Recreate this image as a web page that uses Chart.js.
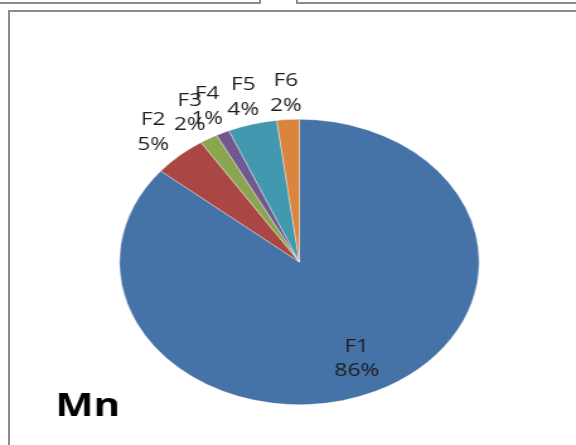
<!DOCTYPE html>
<html>
<head>
<meta charset="utf-8">
<script src="https://cdn.jsdelivr.net/npm/chart.js@4"></script>
<style>
  html, body { margin: 0; padding: 0; background: #fff; }
  body { width: 576px; height: 445px; position: relative; overflow: hidden; }
  .ln { position: absolute; background: #8c8c8c; }
  #wrap { position: absolute; left: 0; top: 0; width: 457px; height: 445px;
          transform: scaleX(1.2604); transform-origin: 0 0; }
</style>
</head>
<body>
<!-- fragments of neighbouring frames -->
<div class="ln" style="left:0;top:2px;width:261px;height:2px"></div>
<div class="ln" style="left:259px;top:0;width:2px;height:4px"></div>
<div class="ln" style="left:296px;top:2px;width:280px;height:2px"></div>
<div class="ln" style="left:296px;top:0;width:2px;height:4px"></div>
<!-- main frame -->
<div class="ln" style="left:8px;top:10px;width:568px;height:2px"></div>
<div class="ln" style="left:8px;top:10px;width:2px;height:435px"></div>
<div id="wrap"><canvas id="c" width="457" height="445"></canvas></div>
<script>
const categories = ["F1", "F2", "F3", "F4", "F5", "F6"];
const values = [86.0, 4.8, 1.6, 1.2, 4.4, 2.0];
const colors = ["#4572A7", "#AA4643", "#89A54E", "#71588F", "#4198AF", "#DB843D"];
const chartTitle = "Mn";

const labelPlugin = {
  id: 'sliceLabels',
  afterDatasetsDraw(chart) {
    const ctx = chart.ctx;
    const meta = chart.getDatasetMeta(0);
    const total = values.reduce((a, b) => a + b, 0);
    ctx.save();
    ctx.font = '18px "Open Sans", sans-serif';
    ctx.fillStyle = '#1e1e1e';
    ctx.textAlign = 'center';
    ctx.textBaseline = 'middle';
    meta.data.forEach((arc, i) => {
      const p = arc.getProps(['x', 'y', 'startAngle', 'endAngle', 'outerRadius'], true);
      const mid = (p.startAngle + p.endAngle) / 2;
      const inside = values[i] / total > 0.2;
      const r = inside ? p.outerRadius * 0.75
                       : p.outerRadius + 26 + 8 * Math.abs(Math.cos(mid));
      const x = p.x + Math.cos(mid) * r;
      const y = p.y + Math.sin(mid) * r;
      const pct = Math.round(values[i] / total * 100) + '%';
      ctx.fillText(categories[i], x, y - 12);
      ctx.fillText(pct, x, y + 12.5);
    });
    // chart title
    ctx.font = 'bold 32px "Open Sans", sans-serif';
    ctx.fillStyle = '#000';
    ctx.textAlign = 'left';
    ctx.textBaseline = 'alphabetic';
    ctx.fillText(chartTitle, 44, 416);
    ctx.restore();
  }
};

new Chart(document.getElementById('c'), {
  type: 'pie',
  data: {
    labels: categories,
    datasets: [{
      data: values,
      backgroundColor: colors,
      borderColor: 'rgba(255,255,255,0.6)',
      borderWidth: 0.6
    }]
  },
  options: {
    responsive: false,
    animation: false,
    devicePixelRatio: 1,
    layout: { padding: { left: 94.5, right: 76.5, top: 119, bottom: 40 } },
    plugins: {
      legend: { display: false },
      title: { display: false },
      tooltip: { enabled: false }
    }
  },
  plugins: [labelPlugin]
});
</script>
</body>
</html>
